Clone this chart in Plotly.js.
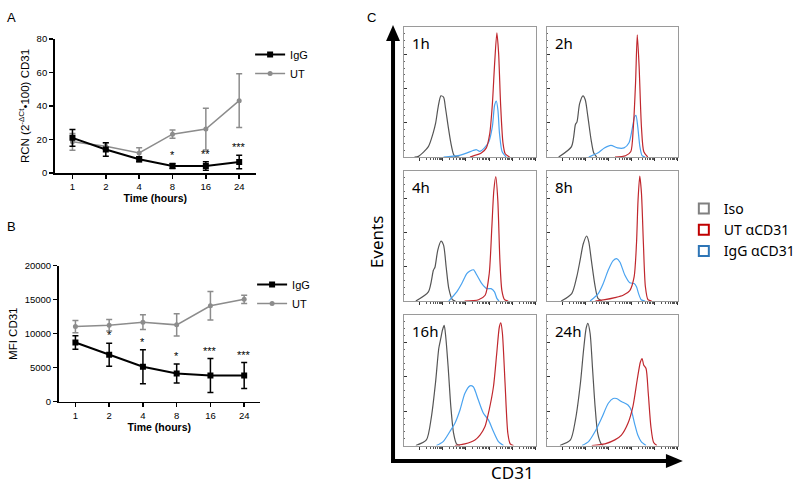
<!DOCTYPE html>
<html><head><meta charset="utf-8">
<script src="https://cdn.plot.ly/plotly-3.0.1.min.js"></script>
<style>html,body{margin:0;padding:0;background:#fff}#chart{width:800px;height:484px}</style>
</head><body><div id="chart"></div>
<script>
// ---------- Data: panels A and B ----------
const timeLabels = ['1', '2', '4', '8', '16', '24'];
const rcnIgG = [21, 14, 8.2, 4.2, 4.2, 6.6];
const rcnIgGErr = [5, 4, 1.5, 1.5, 2.5, 4];
const rcnUT = [18.6, 16, 12, 23.2, 26.2, 43.2];
const rcnUTErr = [5, 2, 3, 2.5, 12.5, 16];
const rcnStars = ['', '', '', '*', '**', '***'];

const mfiIgG = [8700, 6900, 5150, 4150, 3850, 3850];
const mfiIgGErr = [1000, 1700, 2500, 1400, 2500, 1900];
const mfiUT = [11050, 11250, 11700, 11300, 14100, 15050];
const mfiUTErr = [900, 850, 1100, 1650, 2100, 600];
const mfiStars = ['', '*', '*', '*', '***', '***'];

// ---------- Data: panel C histograms ([CD31 position, % of max events]) ----------
const histTimes = ['1h', '2h', '4h', '8h', '16h', '24h'];
const iso_1h = [[8,0],[11,0.5],[18.5,8],[22,18],[24,26],[26,39],[28,47],[30,46],[31.5,37.5],[33.5,23.5],[35.5,11],[37.6,2],[39,0.3],[42,0]];
const ut_1h = [[50,0],[58.6,3],[62.4,7],[65,18],[67,41],[68.7,72],[70.4,95.5],[71.7,80],[73.2,41],[75,11],[76.7,2.5],[80,0]];
const igg_1h = [[30,0],[41,1],[47.4,3],[52.4,5],[55,5.6],[57.4,4.3],[61,7],[64.4,12],[67,23.5],[68.7,40],[70,43],[71.2,36],[72.4,18],[74.4,4],[77.4,0]];

const iso_2h = [[9,0],[18.8,8],[21.8,25],[23,27],[25,41],[27.6,47],[29.3,44],[31.3,31],[33.8,13],[35.8,3],[38,0]];
const ut_2h = [[52,0],[60,1],[64,4],[66,23],[67.7,57],[69,94],[70.4,70],[72.2,23],[74,4],[77,0]];
const igg_2h = [[32,0],[38.8,3],[43.9,7],[48.9,9],[53.9,7],[58.9,7],[62.7,11],[65,21],[67,31],[68,32],[69.4,23],[71,8],[72.7,1],[75,0]];

const iso_4h = [[9,0],[18.5,7],[22.3,23.6],[23.5,26],[25.6,39],[28.1,46],[30,43],[32,26],[34,9.5],[36.7,1],[39,0]];
const ut_4h = [[46,0],[56.5,1],[61.5,4.4],[64.6,21],[66.6,57],[68.1,85],[69.6,95.6],[71.1,77.6],[72.7,31],[74.2,8],[76.2,1],[79,0]];
const igg_4h = [[34,0],[40,7],[43.8,13.4],[47.6,21],[50,23],[52.7,24],[55.2,20],[59,13.4],[62.8,9.5],[66,9.5],[68.6,7],[70.4,2],[72,0]];

const iso_8h = [[11,0],[19,5.7],[22.8,18.5],[25.3,31],[27.8,44],[30.4,50],[32,45.5],[34,31],[36.7,12],[39,2],[42,0]];
const ut_8h = [[37,0],[44.3,1],[51.9,2.6],[58.2,4.4],[63.3,8],[66.6,18.5],[68.4,44],[69.6,77.6],[70.9,96],[72.2,83],[73.7,44],[75.2,11],[77.2,1],[80,0]];
const igg_8h = [[33,0],[39.2,5.7],[43,13.4],[46.8,23.6],[50.6,31],[53.2,32.6],[55.7,30],[59.5,20],[63.3,14],[66.6,13.4],[68.4,11],[70,5.7],[72,1],[75,0]];

const iso_16h = [[9,0],[17,4.3],[20.8,22],[23.9,48],[26.4,74.5],[27.9,82],[29.2,88.5],[30.5,92],[31.7,83],[33.5,60],[35.5,30],[37.6,9.4],[39.8,1.3],[42.4,0]];
const ut_16h = [[38.6,0],[46.2,1.3],[53.8,4.3],[57.6,8],[61.4,14.5],[64.5,27],[67.8,45],[70.3,70.7],[72.3,91],[73.4,94],[74.6,86],[76.6,47.7],[78.7,9.4],[80.5,1.3],[83,0]];
const igg_16h = [[24.6,0],[29.7,3],[34.8,10.7],[38.6,17],[42.4,27],[46.2,40],[50,45.7],[52.5,45],[56.3,35],[60.2,24.7],[64,19.6],[67.8,10.7],[71.6,3],[75.4,0]];

const iso_24h = [[10,0],[18,4.3],[21.8,19.6],[25.6,47.7],[28,73],[30,90],[31.3,93.6],[33,86],[34.8,60],[36.8,30],[38.8,9.4],[41.4,1.3],[43,0]];
const ut_24h = [[34.3,0],[44.4,1.3],[51.9,4.3],[56.9,8],[61.9,17],[65.7,30],[68.9,50],[71.4,64],[72.7,66.6],[73.9,61.7],[75.7,59],[77.4,40],[79.4,14.5],[81.5,2.3],[84,0]];
const igg_24h = [[26.8,0],[31.8,3],[36.8,10.7],[41.8,21],[46.9,32.4],[50.6,36],[53.1,36],[56.9,33.7],[61.9,31],[64.4,27],[66.9,17],[69.4,8],[72,3],[75.7,0]];

const histIso = [iso_1h, iso_2h, iso_4h, iso_8h, iso_16h, iso_24h];
const histUT = [ut_1h, ut_2h, ut_4h, ut_8h, ut_16h, ut_24h];
const histIgG = [igg_1h, igg_2h, igg_4h, igg_8h, igg_16h, igg_24h];
const legendC = ['Iso', 'UT αCD31', 'IgG αCD31'];

// ---------- Helpers ----------
const W = 800, H = 484;
const px = v => v / W;
const py = v => 1 - v / H;
const idx = timeLabels.map((_, i) => i);
const AF = 'Liberation Sans, Arial, sans-serif';
const CF = 'Noto Sans, Open Sans, sans-serif';

const traces = [];
// Panel A
traces.push({x: idx, y: rcnUT, xaxis: 'x', yaxis: 'y', name: 'UT', legend: 'legend', mode: 'lines+markers',
  line: {color: '#8c8c8c', width: 1.5}, marker: {symbol: 'circle', size: 5, color: '#8c8c8c'},
  error_y: {type: 'data', array: rcnUTErr, color: '#8c8c8c', thickness: 1.5, width: 3}});
traces.push({x: idx, y: rcnIgG, xaxis: 'x', yaxis: 'y', name: 'IgG', legend: 'legend', mode: 'lines+markers',
  line: {color: '#000', width: 2}, marker: {symbol: 'square', size: 6, color: '#000'},
  error_y: {type: 'data', array: rcnIgGErr, color: '#000', thickness: 1.5, width: 3}});
// Panel B
traces.push({x: idx, y: mfiUT, xaxis: 'x2', yaxis: 'y2', name: 'UT', legend: 'legend2', mode: 'lines+markers',
  line: {color: '#8c8c8c', width: 1.5}, marker: {symbol: 'circle', size: 5, color: '#8c8c8c'},
  error_y: {type: 'data', array: mfiUTErr, color: '#8c8c8c', thickness: 1.5, width: 3}});
traces.push({x: idx, y: mfiIgG, xaxis: 'x2', yaxis: 'y2', name: 'IgG', legend: 'legend2', mode: 'lines+markers',
  line: {color: '#000', width: 2}, marker: {symbol: 'square', size: 6, color: '#000'},
  error_y: {type: 'data', array: mfiIgGErr, color: '#000', thickness: 1.5, width: 3}});

// Panel C
const cIso = '#555555', cUT = '#c0272d', cIgG = '#4aa3f0';
histTimes.forEach((t, i) => {
  const ax = i + 3;
  [[histIso[i], cIso], [histIgG[i], cIgG], [histUT[i], cUT]].forEach(([d, c]) => {
    traces.push({x: d.map(p => p[0]), y: d.map(p => p[1]), xaxis: 'x' + ax, yaxis: 'y' + ax,
      mode: 'lines', line: {color: c, width: 1.2, shape: 'spline', smoothing: 0.7},
      showlegend: false, hoverinfo: 'skip'});
  });
});
// Legend entries for panel C
[['#808080', legendC[0]], ['#c00000', legendC[1]], ['#2e75b6', legendC[2]]].forEach(([c, n]) => {
  traces.push({x: [null], y: [null], xaxis: 'x3', yaxis: 'y3', name: n, legend: 'legend3', mode: 'markers',
    marker: {symbol: 'square-open', size: 10, color: c, line: {width: 2, color: c}}});
});

// ---------- Layout ----------
const layout = {
  width: W, height: H, margin: {l: 0, r: 0, t: 0, b: 0},
  paper_bgcolor: '#fff', plot_bgcolor: 'rgba(0,0,0,0)',
  font: {family: AF, color: '#000', size: 10},
  showlegend: true,
  legend: {x: px(252), y: py(40), xanchor: 'left', yanchor: 'top', font: {size: 11, family: AF, color: '#000'},
    traceorder: 'reversed', itemwidth: 30, bgcolor: 'rgba(0,0,0,0)', tracegroupgap: 0},
  legend2: {x: px(254), y: py(270), xanchor: 'left', yanchor: 'top', font: {size: 11, family: AF, color: '#000'},
    traceorder: 'reversed', itemwidth: 30, bgcolor: 'rgba(0,0,0,0)'},
  legend3: {x: px(689), y: py(193), xanchor: 'left', yanchor: 'top', font: {size: 14, family: CF, color: '#000'},
    itemwidth: 30, bgcolor: 'rgba(0,0,0,0)'},
  annotations: [], shapes: []
};

const baseLin = {showline: true, linecolor: '#000', linewidth: 1.5, ticks: 'outside', ticklen: 4,
  tickwidth: 1.5, tickcolor: '#000', showgrid: false, zeroline: false, tickfont: {size: 9.5, family: AF, color: '#000'}};
const titleFont = {size: 11.5, family: AF, color: '#000'};

layout.xaxis = Object.assign({}, baseLin, {domain: [px(55), px(258)], range: [-0.536, 5.506], anchor: 'y',
  tickmode: 'array', tickvals: idx, ticktext: timeLabels,
  title: {text: '<b>Time (hours)</b>', font: {size: 10.5, family: AF, color: '#000'}, standoff: 3}});
layout.yaxis = Object.assign({}, baseLin, {domain: [py(173), py(39)], range: [0, 80], dtick: 20, anchor: 'x',
  title: {text: 'RCN (2<sup>-ΔCt</sup>•100) CD31', font: titleFont, standoff: 4}});
layout.xaxis2 = Object.assign({}, baseLin, {domain: [px(59), px(262)], range: [-0.5, 5.47], anchor: 'y2',
  tickmode: 'array', tickvals: idx, ticktext: timeLabels,
  title: {text: '<b>Time (hours)</b>', font: {size: 10.5, family: AF, color: '#000'}, standoff: 3}});
layout.yaxis2 = Object.assign({}, baseLin, {domain: [py(401.7), py(265.7)], range: [0, 20000], dtick: 5000, anchor: 'x2',
  tickformat: 'd', separatethousands: false,
  title: {text: 'MFI CD31', font: titleFont, standoff: 4}});

// Stars above IgG error bars
const starFont = {size: 11, family: AF, color: '#000'};
rcnStars.forEach((s, i) => { if (s) layout.annotations.push({xref: 'x', yref: 'y', x: i, y: rcnIgG[i] + rcnIgGErr[i],
  text: s, showarrow: false, yanchor: 'bottom', yshift: 0, font: starFont}); });
mfiStars.forEach((s, i) => { if (s) layout.annotations.push({xref: 'x2', yref: 'y2', x: i, y: mfiIgG[i] + mfiIgGErr[i],
  text: s, showarrow: false, yanchor: 'bottom', yshift: 0, font: starFont}); });

// Histogram subplots
const colX = [[407, 540], [551, 683]];
const rowY = [[27, 157], [171, 301], [315, 445.5]];
const decade = 17.5, d0 = 12;
const majX = [], minX = [];
for (let k = 0; k < 6; k++) {
  const d = d0 + k * decade; if (d <= 100) majX.push(d);
  for (let m = 2; m <= 9; m++) { const v = d + decade * Math.log10(m); if (v < 100) minX.push(v); }
}
histTimes.forEach((t, i) => {
  const ax = i + 3, c = colX[i % 2], r = rowY[Math.floor(i / 2)];
  layout['xaxis' + ax] = {domain: [px(c[0]), px(c[1])], range: [0, 100], anchor: 'y' + ax,
    showline: true, mirror: true, linecolor: '#9a9a9a', linewidth: 1, showgrid: false, zeroline: false,
    showticklabels: false, ticks: 'outside', ticklen: 3, tickcolor: '#333', tickmode: 'array', tickvals: majX,
    minor: {ticks: 'outside', ticklen: 2, tickcolor: '#555', tickmode: 'array', tickvals: minX}};
  layout['yaxis' + ax] = {domain: [py(r[1]), py(r[0])], range: [0, 100], anchor: 'x' + ax,
    showline: true, mirror: true, linecolor: '#9a9a9a', linewidth: 1, showgrid: false, zeroline: false,
    showticklabels: false, ticks: 'inside', ticklen: 3, tickcolor: '#333', tickmode: 'linear', tick0: 0, dtick: 26.3,
    minor: {ticks: 'inside', ticklen: 1.5, tickcolor: '#666', dtick: 26.3 / 5}};
  layout.annotations.push({xref: 'x' + ax + ' domain', yref: 'y' + ax + ' domain', x: 0.045, y: 0.97,
    xanchor: 'left', yanchor: 'top', text: t, showarrow: false, font: {size: 15, family: CF, color: '#000'}});
});

// Panel letters & labels
const lab = (x, y, text, font, extra) => layout.annotations.push(Object.assign({xref: 'paper', yref: 'paper',
  x: px(x), y: py(y), text, showarrow: false, font}, extra || {}));
lab(5, 8, 'A', {size: 13, family: AF, color: '#000'}, {xanchor: 'left'});
lab(5, 226, 'B', {size: 13, family: AF, color: '#000'}, {xanchor: 'left'});
lab(368, 8, 'C', {size: 13, family: AF, color: '#000'}, {xanchor: 'left'});
lab(379, 242, 'Events', {size: 17, family: CF, color: '#000'}, {textangle: -90});
lab(540, 486, 'CD31', {size: 17, family: CF, color: '#000'}, {yanchor: 'bottom'});

// Big axis arrows
layout.shapes.push({type: 'line', xref: 'paper', yref: 'paper', x0: px(396), x1: px(396), y0: py(463), y1: py(38), line: {color: '#000', width: 4}});
layout.shapes.push({type: 'path', xref: 'paper', yref: 'paper', fillcolor: '#000', line: {width: 0},
  path: `M ${px(389)} ${py(41)} L ${px(403)} ${py(41)} L ${px(396)} ${py(25)} Z`});
layout.shapes.push({type: 'line', xref: 'paper', yref: 'paper', x0: px(394), x1: px(674), y0: py(461), y1: py(461), line: {color: '#000', width: 4}});
layout.shapes.push({type: 'path', xref: 'paper', yref: 'paper', fillcolor: '#000', line: {width: 0},
  path: `M ${px(671)} ${py(454)} L ${px(671)} ${py(468)} L ${px(688)} ${py(461)} Z`});

Plotly.newPlot('chart', traces, layout, {displayModeBar: false, staticPlot: true});
</script></body></html>
